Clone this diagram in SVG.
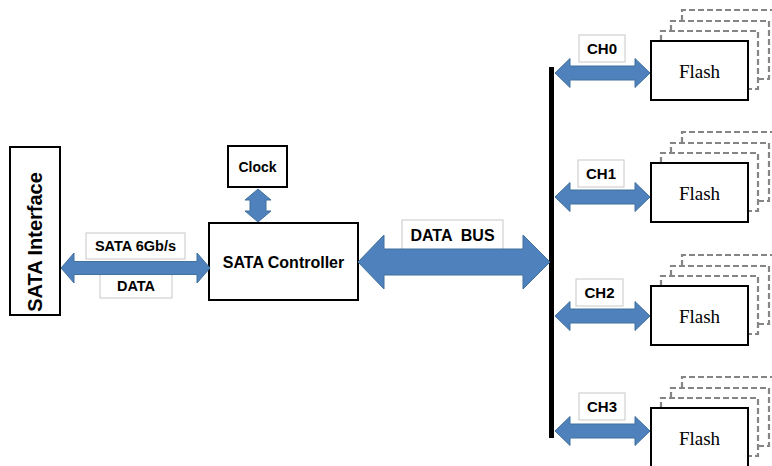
<svg xmlns="http://www.w3.org/2000/svg" width="772" height="466" viewBox="0 0 772 466">
<style>
.box{fill:#fff;stroke:#000;stroke-width:2}
.lbl{fill:#fff;stroke:#c8c8c8;stroke-width:1}
.arr{fill:#4f81bd;stroke:#41719c;stroke-width:1}
.dash{fill:none;stroke:#858585;stroke-width:2.2;stroke-dasharray:6 3}
.t{font-family:"Liberation Sans",Arial,sans-serif;font-weight:bold;fill:#000;text-anchor:middle}
.f{font-family:"Liberation Serif","Times New Roman",serif;font-size:19px;fill:#000;text-anchor:middle}
</style>
<g id="sata-interface">
<rect class="box" x="10" y="147" width="50" height="168"/>
<text class="t" font-size="20" transform="translate(42,242) rotate(-90)">SATA Interface</text>
</g>
<g id="clock">
<rect class="box" x="228" y="146" width="59" height="41"/>
<text class="t" font-size="14" x="257.5" y="172">Clock</text>
</g>
<g id="sata-controller">
<rect class="box" x="209" y="223" width="149" height="77"/>
<text class="t" font-size="16" x="283.5" y="268">SATA Controller</text>
</g>
<g id="flash0">
<path class="dash" d="M682,21 V10 H780 M671,31 V21 H769 V79 H758 M661,41 V31 H758 V89 H748"/>
<rect class="box" x="651" y="41" width="97" height="59"/>
<text class="f" x="699.5" y="78">Flash</text>
</g>
<g id="flash1">
<path class="dash" d="M682,143 V132 H780 M671,153 V143 H769 V201 H758 M661,163 V153 H758 V211 H748"/>
<rect class="box" x="651" y="163" width="97" height="59"/>
<text class="f" x="699.5" y="200">Flash</text>
</g>
<g id="flash2">
<path class="dash" d="M682,266 V255 H780 M671,276 V266 H769 V324 H758 M661,286 V276 H758 V334 H748"/>
<rect class="box" x="651" y="286" width="97" height="59"/>
<text class="f" x="699.5" y="323">Flash</text>
</g>
<g id="flash3">
<path class="dash" d="M682,388 V377 H780 M671,398 V388 H769 V446 H758 M661,408 V398 H758 V456 H748"/>
<rect class="box" x="651" y="408" width="97" height="59"/>
<text class="f" x="699.5" y="445">Flash</text>
</g>
<g id="data-bus-bar">
<rect x="549" y="67" width="5" height="371" fill="#000"/>
</g>
<g id="connectors">
<rect class="lbl" x="86" y="233" width="99" height="26"/>
<text class="t" font-size="14.5" x="135.5" y="251">SATA 6Gb/s</text>
<rect class="lbl" x="100" y="273" width="72" height="25"/>
<text class="t" font-size="14.5" x="136" y="291">DATA</text>
<path class="arr" d="M61,268 L74,253 L74,261.5 L197,261.5 L197,253 L210,268 L197,283 L197,274.5 L74,274.5 L74,283 Z"/>
<path class="arr" d="M258,189 L271,200 L266,200 L266,211 L271,211 L258,222 L245,211 L250,211 L250,200 L245,200 Z"/>
<rect class="lbl" x="402" y="220" width="101" height="30"/>
<text class="t" font-size="16" x="452.5" y="241" xml:space="preserve">DATA  BUS</text>
<path class="arr" d="M358,262 L384,235 L384,249 L523,249 L523,235 L550,262 L523,289 L523,275 L384,275 L384,289 Z"/>
<rect class="lbl" x="579" y="35" width="46" height="27"/>
<text class="t" font-size="15" x="602" y="54">CH0</text>
<path class="arr" d="M555,73 L570,58.5 L570,66 L635,66 L635,58.5 L650,73 L635,87.5 L635,80 L570,80 L570,87.5 Z"/>
<rect class="lbl" x="578" y="160" width="46" height="27"/>
<text class="t" font-size="15" x="601" y="179">CH1</text>
<path class="arr" d="M555,197 L570,182.5 L570,190 L635,190 L635,182.5 L650,197 L635,211.5 L635,204 L570,204 L570,211.5 Z"/>
<rect class="lbl" x="576" y="279" width="47" height="27"/>
<text class="t" font-size="15" x="599.5" y="298">CH2</text>
<path class="arr" d="M555,316 L570,301.5 L570,309 L635,309 L635,301.5 L650,316 L635,330.5 L635,323 L570,323 L570,330.5 Z"/>
<rect class="lbl" x="579" y="393" width="46" height="27"/>
<text class="t" font-size="15" x="602" y="412">CH3</text>
<path class="arr" d="M555,431 L570,416.5 L570,424 L635,424 L635,416.5 L650,431 L635,445.5 L635,438 L570,438 L570,445.5 Z"/>
</g>
</svg>
